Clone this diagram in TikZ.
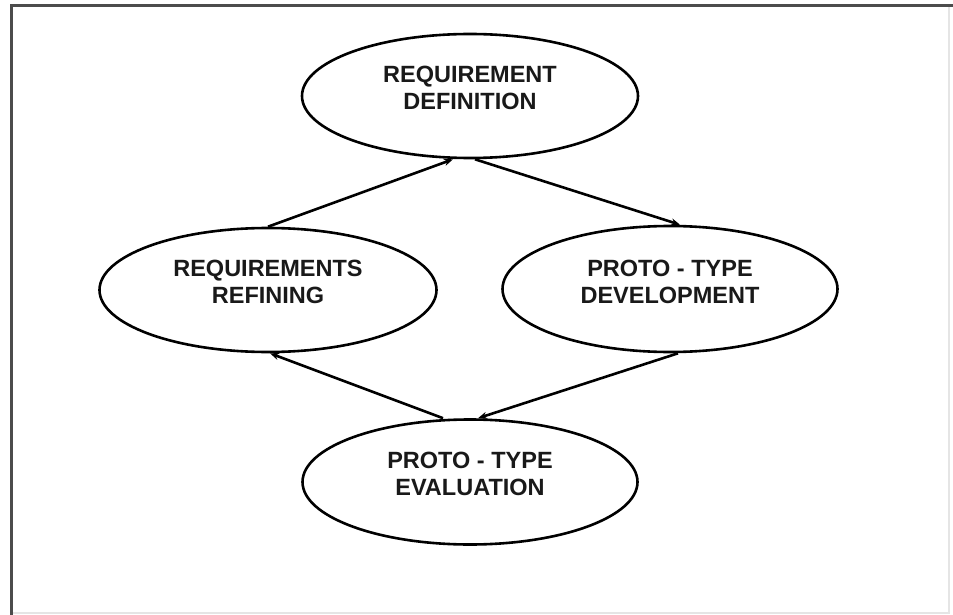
\documentclass[tikz,border=0pt]{standalone}
\usepackage{fontspec}
\setmainfont{Liberation Sans}
\usetikzlibrary{shapes.geometric,arrows.meta}
\tikzset{
  stage/.style={ellipse, draw=black, line width=2.6pt, fill=white, inner sep=0pt},
  stagetext/.style={align=center, text=black!90,
    font=\fontsize{23.5}{26.5}\selectfont\bfseries, inner sep=0pt},
  flow/.style={line width=2.6pt, draw=black, -{Stealth[length=9pt,width=7pt]}},
  frame/.style={line width=3pt, draw=black!70},
  lightframe/.style={line width=2pt, draw=black!10}
}
\begin{document}
\begin{tikzpicture}[x=1pt, y=-1pt]
  \useasboundingbox (0,0) rectangle (953,615);
  \fill[white] (0,0) rectangle (953,615);

  % outer frame: dark top and left, faint right and bottom
  \draw[lightframe] (949,5) -- (949,613) -- (10,613);
  \draw[frame] (11,615) -- (11,5.5) -- (953,5.5);

  % the four stages of the cycle
  \node[stage, minimum width=336pt, minimum height=124pt] (rd) at (470,96) {};
  \node[stage, minimum width=337pt, minimum height=124pt] (rr) at (268,290) {};
  \node[stage, minimum width=335pt, minimum height=126pt] (pd) at (670,289) {};
  \node[stage, minimum width=335pt, minimum height=125pt] (pe) at (470,482) {};

  \node[stagetext] (rdt) at ([yshift=8pt]rd.center) {REQUIREMENT\\DEFINITION};
  \node[stagetext] (rrt) at ([yshift=8pt]rr.center) {REQUIREMENTS\\REFINING};
  \node[stagetext] (pdt) at ([yshift=7pt]pd.center) {PROTO - TYPE\\DEVELOPMENT};
  \node[stagetext] (pet) at ([yshift=8pt]pe.center) {PROTO - TYPE\\EVALUATION};

  % connectors
  \draw[flow] (rr.north) -- ([xshift=-17pt]rd.south);
  \draw[flow] ([xshift=5pt]rd.south) -- ([xshift=10pt]pd.north);
  \draw[flow] ([xshift=8pt]pd.south) -- ([xshift=8pt]pe.north);
  \draw[flow] ([xshift=-27pt]pe.north) -- ([xshift=2pt]rr.south);
\end{tikzpicture}
\end{document}
